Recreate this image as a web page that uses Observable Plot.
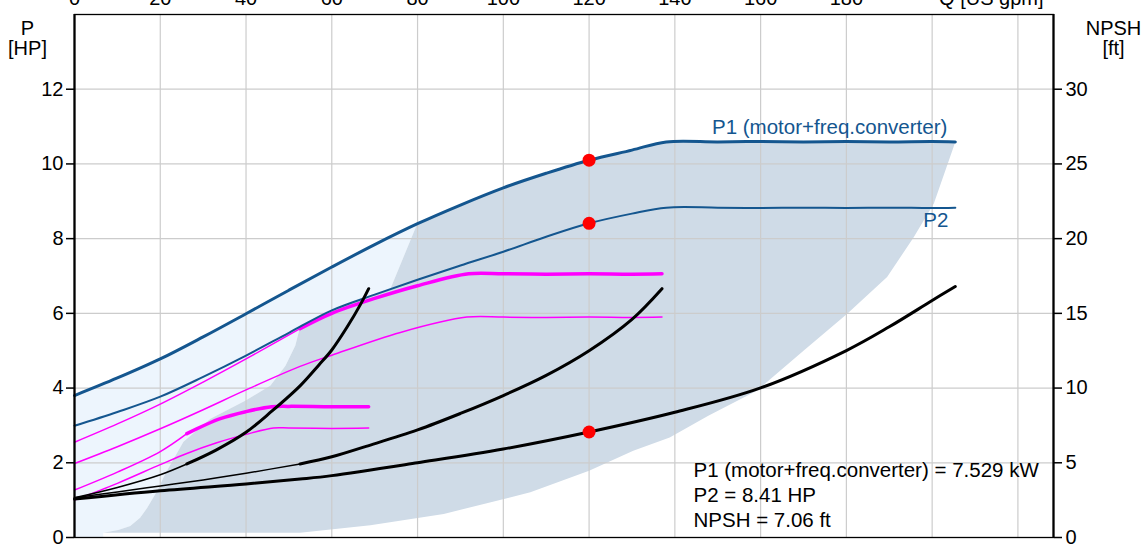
<!DOCTYPE html>
<html><head><meta charset="utf-8">
<script src="https://cdn.jsdelivr.net/npm/d3@7"></script>
<script src="https://cdn.jsdelivr.net/npm/@observablehq/plot@0.6"></script>
<style>html,body{margin:0;padding:0;background:#fff} svg{display:block}</style>
</head><body><div id="chart"></div>
<script>
// ---- axes / ticks ----
const qTicks = [0,20,40,60,80,100,120,140,160,180];
const qGrid = [20,40,60,80,100,120,140,160,180,200,220];
const pTicks = [0,2,4,6,8,10,12];
const pGrid = [2,4,6,8,10,12];
const npshTicks = [0,5,10,15,20,25,30];
const qMax = 228.3, pMax = 14, ftPerHp = 2.5;

// ---- full speed power curves (HP) ----
const p1Q = [0,10,20,30,40,50,60,70,80,90,100,110,120,130,138,150,160,170,180,190,200,205.4];
const p1P = [3.80,4.27,4.78,5.37,5.99,6.62,7.24,7.84,8.40,8.90,9.36,9.75,10.10,10.37,10.59,10.59,10.60,10.59,10.60,10.59,10.60,10.59];
const p2Q = [0,10,20,30,40,50,60,70,80,90,100,110,120,130,138,150,160,170,180,190,200,205.4];
const p2P = [2.99,3.36,3.77,4.30,4.87,5.48,6.08,6.50,6.90,7.28,7.65,8.05,8.41,8.67,8.83,8.83,8.82,8.83,8.82,8.83,8.82,8.83];

// ---- reduced speed power curves (HP) ----
const m1ThinQ = [0,10,20,30,40,52.6];
const m1ThinP = [2.55,3.04,3.57,4.16,4.78,5.59];
const m1ThickQ = [52.6,60,70,80,91.9,100,110,120,130,137];
const m1ThickP = [5.59,6.00,6.40,6.74,7.06,7.06,7.05,7.06,7.05,7.06];
const m2Q = [0,10,20,30,40,52.6,60,76,91.5,100,110,120,130,137];
const m2P = [1.98,2.43,2.91,3.42,3.95,4.58,4.88,5.49,5.90,5.90,5.89,5.90,5.89,5.90];
const m3ThinQ = [0,10,20,26.2];
const m3ThinP = [1.27,1.75,2.30,2.78];
const m3ThickQ = [26.2,34,40,46,50,60,68.6];
const m3ThickP = [2.78,3.18,3.37,3.50,3.51,3.50,3.50];
const m4Q = [0,10,20,26.2,33,40,46.4,50,60,68.6];
const m4P = [1.00,1.45,1.95,2.25,2.53,2.76,2.93,2.93,2.92,2.93];

// ---- NPSH curves (ft) ----
const n1ThinQ = [0,10,20,26.2];
const n1ThinFt = [2.66,3.35,4.20,4.92];
const n1ThickQ = [26.2,33,40,46,52.6,57,60,63.5,66.7,68.6];
const n1ThickFt = [4.92,5.85,7.04,8.45,10.15,11.55,12.55,14.05,15.60,16.65];
const n2ThinQ = [0,10,20,30,40,52.6];
const n2ThinFt = [2.66,3.05,3.45,3.85,4.30,4.92];
const n2ThickQ = [52.6,60,68,80,90,100,110,120,130,137];
const n2ThickFt = [4.92,5.40,6.10,7.20,8.30,9.50,10.85,12.50,14.60,16.65];
const n3Q = [0,20,40,52.6,60,80,100,120,140,160,180,190,200,205.4];
const n3Ft = [2.57,3.13,3.58,3.91,4.14,5.00,5.92,7.06,8.38,10.01,12.51,14.10,15.86,16.80];

// ---- operating area boundaries ----
const leftEdgeQ = [6.7,10.2,13.0,15.3,17.0,19.3,21.2,25.4,31.7,39.8,45.7,49.2,51.5,52.6,60,70,73.6,79.9];
const leftEdgeP = [0.13,0.20,0.31,0.53,0.80,1.25,1.71,2.56,3.18,3.66,4.07,4.60,5.14,5.64,6.08,6.50,6.64,8.39];
const lowEdgeQ = [205.4,200.4,195.7,189.5,180.2,170.0,159.1,147.8,138.8,130.3,120.0,106.3,86.1,69,52.6,6.7];
const lowEdgeP = [10.59,8.94,8.04,6.97,5.99,5.00,3.93,3.26,2.68,2.32,1.79,1.21,0.63,0.33,0.13,0.13];

// ---- duty point ----
const dutyQ = 120, dutyP1 = 10.10, dutyP2 = 8.41, dutyNpsh = 7.06;

const annotation = "P1 (motor+freq.converter) = 7.529 kW\nP2 = 8.41 HP\nNPSH = 7.06 ft";

// ---- build tables ----
const rows = (name, qs, vs, div = 1) => qs.map((q, i) => ({name, q, p: vs[i] / div}));
const zip = (qs, vs) => qs.map((q, i) => ({q, p: vs[i]}));

const p1Rows = rows("P1", p1Q, p1P);
const p2Rows = rows("P2", p2Q, p2P);

const darkPoly = [
  ...zip(leftEdgeQ, leftEdgeP),
  ...zip(p1Q, p1P).filter(d => d.q > 79.9),
  ...zip(lowEdgeQ, lowEdgeP)
];
const lightPoly = [
  ...zip(p1Q, p1P).filter(d => d.q < 79.9),
  ...zip(leftEdgeQ, leftEdgeP).reverse(),
  {q: leftEdgeQ[0], p: 0}, {q: 0, p: 0}
];

const magentaThin = [...rows("m1", m1ThinQ, m1ThinP), ...rows("m2", m2Q, m2P), ...rows("m3", m3ThinQ, m3ThinP), ...rows("m4", m4Q, m4P)];
const magentaThick = [...rows("m1", m1ThickQ, m1ThickP), ...rows("m3", m3ThickQ, m3ThickP)];
const blackThin = [...rows("n1", n1ThinQ, n1ThinFt, ftPerHp), ...rows("n2", n2ThinQ, n2ThinFt, ftPerHp)];
const blackThick = [...rows("n1", n1ThickQ, n1ThickFt, ftPerHp), ...rows("n2", n2ThickQ, n2ThickFt, ftPerHp), ...rows("n3", n3Q, n3Ft, ftPerHp)];
const dots = [{q: dutyQ, p: dutyP1}, {q: dutyQ, p: dutyP2}, {q: dutyQ, p: dutyNpsh / ftPerHp}];

const blue = "#14568f";
const font = "Arial, 'Liberation Sans', Helvetica, sans-serif";
const curve = "catmull-rom";

const chart = Plot.plot({
  width: 1145,
  height: 552,
  marginLeft: 74,
  marginRight: 92,
  marginTop: 14,
  marginBottom: 15,
  style: {fontFamily: font, fontSize: "20px", color: "black", background: "white"},
  x: {domain: [0, qMax], label: null},
  y: {domain: [0, pMax], label: null},
  marks: [
    Plot.line(lightPoly, {x: "q", y: "p", fill: "#edf5fd", stroke: "none"}),
    Plot.line(darkPoly, {x: "q", y: "p", fill: "#cfdbe7", stroke: "none"}),
    Plot.gridX(qGrid, {stroke: "#cccccc", strokeOpacity: 1, strokeWidth: 1.2}),
    Plot.gridY(pGrid, {stroke: "#cccccc", strokeOpacity: 1, strokeWidth: 1.2}),
    Plot.line(magentaThin, {x: "q", y: "p", z: "name", stroke: "#ff00ff", strokeWidth: 1.5, curve}),
    Plot.line(magentaThick, {x: "q", y: "p", z: "name", stroke: "#ff00ff", strokeWidth: 3.5, curve}),
    Plot.line(p2Rows, {x: "q", y: "p", stroke: blue, strokeWidth: 2, curve}),
    Plot.line(p1Rows, {x: "q", y: "p", stroke: blue, strokeWidth: 3, curve}),
    Plot.line(blackThin, {x: "q", y: "p", z: "name", stroke: "black", strokeWidth: 1.5, curve}),
    Plot.line(blackThick, {x: "q", y: "p", z: "name", stroke: "black", strokeWidth: 3, curve}),
    Plot.frame({stroke: "black", strokeWidth: 1.3}),
    Plot.ruleX([0, qMax], {stroke: "black", strokeWidth: 2.2}),
    Plot.dot(dots, {x: "q", y: "p", r: 6.5, fill: "#ff0000", stroke: "none"}),
    Plot.axisX(qTicks, {anchor: "top", label: null, tickSize: 0, tickPadding: 10, fontSize: 20}),
    Plot.axisY(pTicks, {anchor: "left", label: null, tickSize: 8, tickPadding: 3, strokeWidth: 1.5, fontSize: 20}),
    Plot.axisY(npshTicks.map(t => t / ftPerHp), {anchor: "right", label: null, tickSize: 8, tickPadding: 4, strokeWidth: 1.5, fontSize: 20, tickFormat: d => d * ftPerHp}),
    Plot.text(["Q [US gpm]"], {frameAnchor: "top-right", textAnchor: "end", lineAnchor: "bottom", dx: -10, dy: -10, fontSize: 20}),
    Plot.text(["P\n[HP]"], {frameAnchor: "top-left", textAnchor: "middle", lineAnchor: "top", dx: -47, dy: 6, lineHeight: 1.0, fontSize: 20}),
    Plot.text(["NPSH\n[ft]"], {frameAnchor: "top-right", textAnchor: "middle", lineAnchor: "top", dx: 60, dy: 6, lineHeight: 1.0, fontSize: 20}),
    Plot.text([p1Rows[p1Rows.length - 1]], {x: "q", y: "p", text: () => "P1 (motor+freq.converter)", textAnchor: "end", lineAnchor: "bottom", dx: -8, dy: -8, fill: blue, fontSize: 20.5}),
    Plot.text([p2Rows[p2Rows.length - 1]], {x: "q", y: "p", text: () => "P2", textAnchor: "end", lineAnchor: "top", dx: -7, dy: 5, fill: blue, fontSize: 20.5}),
    Plot.text([annotation], {frameAnchor: "bottom-left", textAnchor: "start", lineAnchor: "bottom", dx: 619, dy: -11, lineHeight: 1.2, fontSize: 20.5})
  ]
});
document.getElementById("chart").appendChild(chart);
</script>
</body></html>
